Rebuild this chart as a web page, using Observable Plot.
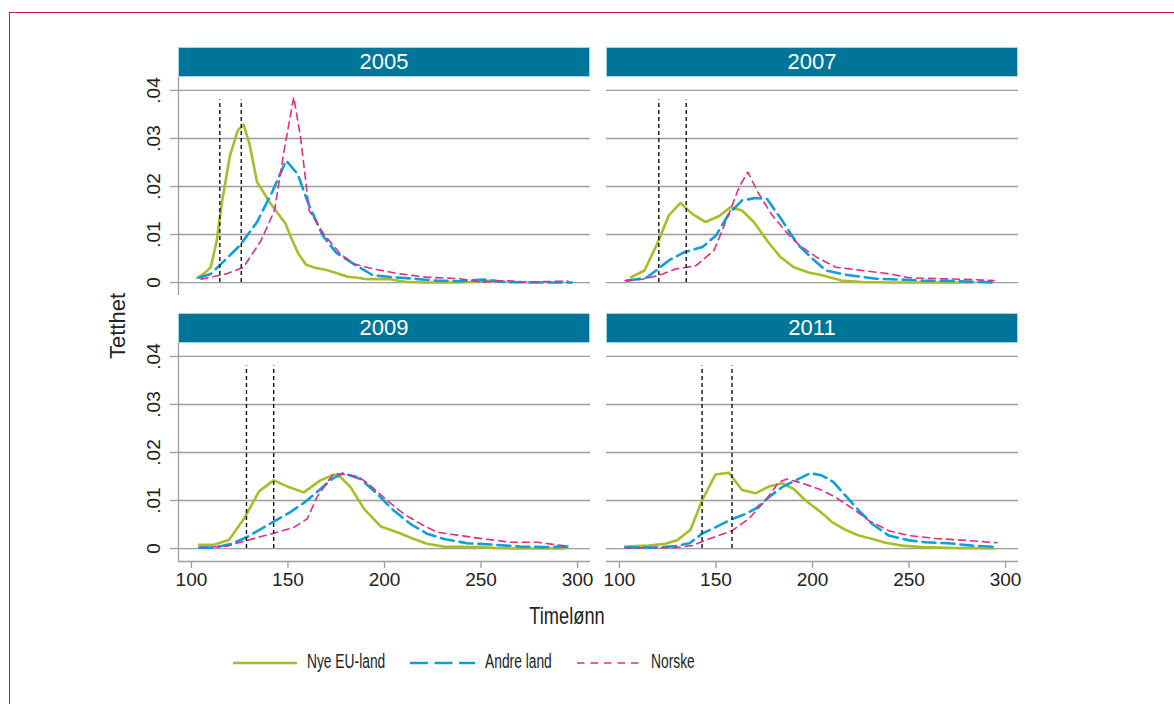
<!DOCTYPE html>
<html>
<head>
<meta charset="utf-8">
<script src="https://cdn.jsdelivr.net/npm/d3@7"></script>
<script src="https://cdn.jsdelivr.net/npm/@observablehq/plot@0.6"></script>
<style>
  html, body { margin: 0; padding: 0; background: #fff; }
  body { width: 1174px; height: 704px; position: relative; overflow: hidden; font-family: "Liberation Sans", Arial, sans-serif; color: #222; }
  .abs { position: absolute; }
  .frameline { left: 9px; top: 12px; width: 1300px; height: 800px; border-left: 1.5px solid #c8186e; border-top: 1.5px solid #c8186e; }
  .strip { background: #00759a; border: 1px solid #a6d3e2; box-sizing: border-box; color: #fff; font-size: 22px; text-align: center; line-height: 28px; }
  .lbl { font-size: 22px; color: #222; white-space: nowrap; }
  .leg { font-size: 20px; color: #222; white-space: nowrap; transform-origin: 0 50%; transform: scaleX(0.69); }
</style>
</head>
<body>
<div class="abs frameline"></div>
<div id="root"></div>
<script>
// ---- data ----
const years = ["2005", "2007", "2009", "2011"];
const groups = ["Nye EU-land", "Andre land", "Norske"];
const xTicks = [100, 150, 200, 250, 300];
const yTicks = [0, 0.01, 0.02, 0.03, 0.04];
const yTickLabels = ["0", ".01", ".02", ".03", ".04"];
const xLabel = "Timelønn";
const yLabel = "Tetthet";

// dashed reference lines (vertical markers) per year, and their top
const markers2005 = [114.7, 125.8];
const markers2007 = [120.4, 134.6];
const markers2009 = [128.5, 142.6];
const markers2011 = [142.8, 158.3];
const markerTop = 0.038;

// Nye EU-land
const eu2005 = [[103,.0010],[107,.0020],[110,.0032],[113,.0085],[116,.0172],[120,.0265],[124,.0317],[127,.0329],[130,.0290],[134,.0209],[141,.0164],[148.7,.0123],[152,.0090],[155.4,.0060],[159.4,.0037],[164,.0031],[170,.0026],[175,.0020],[181,.0012],[186,.0010],[191,.0007],[197,.0007],[203,.0007],[208,.0003],[212,.0001],[222,.0000],[235,.0000],[245,.0001],[252,.0003],[256,.0004],[258,.0003]];
const eu2007 = [[106,.0011],[113,.0025],[119.6,.0081],[125.6,.0140],[131.6,.0166],[137.7,.0143],[144.6,.0126],[151.5,.0138],[157.5,.0157],[163.5,.0150],[169.6,.0126],[176.5,.0087],[183.4,.0053],[190.3,.0032],[198,.0021],[205,.0015],[215,.0004],[226,.0001],[241,.0000],[283,.0000]];
const eu2009 = [[104,.0008],[111.6,.0008],[119.4,.0018],[127.2,.0062],[135,.0119],[142.6,.0142],[150.4,.0128],[158.2,.0117],[166.8,.0142],[173.7,.0154],[177.2,.0149],[182.4,.0128],[189.3,.0083],[198,.0046],[206.6,.0034],[215.2,.0020],[222,.0010],[230.7,.0004],[248,.0003],[265,.0000],[293,.0000]];
const eu2011 = [[103,.0004],[115,.0006],[123.8,.0010],[129.8,.0017],[136.8,.0039],[142.8,.0100],[149.7,.0154],[156.6,.0158],[163.5,.0122],[170.5,.0115],[177.4,.0129],[184.3,.0136],[190.3,.0124],[196.4,.0100],[203.3,.0079],[210.2,.0055],[217.1,.0039],[224,.0027],[231,.0020],[237.8,.0012],[246.4,.0006],[256.8,.0003],[274,.0001],[294,.0000]];

// Andre land
const an2005 = [[104,.0010],[110,.0018],[118,.0049],[125,.0077],[134,.0126],[142,.0190],[149,.0254],[155,.0226],[161,.0160],[168,.0098],[175,.0062],[184,.0039],[194,.0015],[205,.0011],[215,.0008],[227,.0004],[239,.0003],[251,.0006],[263,.0001],[280,.0000],[297,.0000]];
const an2007 = [[104,.0004],[114,.0010],[119,.0025],[125.6,.0046],[133.4,.0063],[143,.0074],[150,.0098],[156.7,.0143],[163.5,.0171],[170.5,.0176],[176.5,.0174],[184.3,.0129],[192,.0081],[199,.0053],[207,.0025],[219,.0015],[233,.0008],[246.6,.0006],[257,.0004],[274,.0003],[295,.0000]];
const an2009 = [[104,.0002],[112,.0002],[121,.0010],[128.8,.0024],[136.6,.0042],[143.5,.0058],[151.3,.0076],[158.2,.0095],[166,.0121],[172.9,.0145],[178.6,.0157],[187.6,.0145],[196.2,.0114],[204.8,.0079],[213.5,.0051],[222,.0031],[230.7,.0020],[242.8,.0011],[256.6,.0008],[270.5,.0004],[282.5,.0003],[295.4,.0004]];
const an2011 = [[103,.0002],[118.7,.0002],[129,.0005],[136.3,.0011],[142.8,.0031],[149.7,.0044],[157.5,.0060],[165.3,.0072],[170.5,.0083],[177.4,.0107],[184.3,.0128],[191.2,.0142],[198.9,.0157],[205,.0152],[211,.0138],[217.1,.0110],[224,.0079],[231,.0051],[239.5,.0027],[250,.0017],[258.5,.0013],[270.6,.0011],[282.7,.0006],[296,.0003]];

// Norske
const no2005 = [[105,.0007],[118,.0018],[127,.0032],[136,.0087],[143,.0150],[148,.0275],[153,.0386],[156.5,.0303],[161,.0150],[168.5,.0101],[177,.0060],[184,.0039],[194.5,.0028],[208,.0018],[222,.0011],[239,.0008],[250,.0001],[262,.0004],[273,.0001],[295,.0003]];
const no2007 = [[103,.0004],[112,.0007],[120.6,.0015],[129,.0028],[139.6,.0035],[149,.0067],[156.7,.0143],[162,.0199],[166.5,.0230],[171.7,.0188],[178.6,.0143],[186.4,.0105],[193.3,.0077],[202,.0053],[212,.0032],[226,.0025],[240,.0018],[250,.0010],[266,.0008],[283,.0006],[294,.0004]];
const no2009 = [[104.7,.0002],[118.5,.0005],[128.8,.0017],[142.6,.0032],[153,.0044],[160,.0062],[165,.0107],[170.3,.0138],[173.7,.0156],[180.7,.0154],[186.7,.0149],[192.7,.0131],[201.4,.0100],[210,.0072],[218.7,.0051],[227.3,.0034],[239.4,.0027],[251.5,.0020],[265.3,.0013],[279,.0013],[294.7,.0005]];
const no2011 = [[103,.0001],[118.7,.0002],[129,.0002],[137.6,.0006],[146.3,.0020],[158.3,.0037],[167,.0062],[175.6,.0100],[182.5,.0138],[186.8,.0145],[194.6,.0136],[203.3,.0124],[211.9,.0107],[222.3,.0079],[229.2,.0058],[239.5,.0037],[250,.0027],[263.7,.0021],[279.3,.0017],[295.6,.0012]];

// ---- build tables ----
const seriesByYear = {
  "2005": [eu2005, an2005, no2005],
  "2007": [eu2007, an2007, no2007],
  "2009": [eu2009, an2009, no2009],
  "2011": [eu2011, an2011, no2011]
};
const markersByYear = { "2005": markers2005, "2007": markers2007, "2009": markers2009, "2011": markers2011 };

const colors = ["#a9bd2a", "#0e9fdb", "#de2e86"];
const dashes = [null, "13,6", "7,5"];
const widths = [2.6, 2.6, 1.6];

const xDomain = [93.3, 306.7];
const yDomain = [-0.0027, 0.0427];

const root = document.getElementById("root");

function panel(year, idx) {
  const col = idx % 2, row = Math.floor(idx / 2);
  const showY = col === 0, showX = row === 1;
  const plotLeft = col === 0 ? 178 : 606;
  const plotTop = row === 0 ? 77 : 343;
  const mL = showY ? 78 : 0;
  const mB = showX ? 45 : 0;
  const innerW = 412, innerH = 218;

  const rows = [];
  seriesByYear[year].forEach((s, g) => s.forEach(([x, y]) => rows.push({ group: groups[g], g, x, y })));

  const marks = [
    Plot.ruleY(yTicks, { stroke: "#9c9c9c", strokeWidth: 1.3 })
  ];
  if (showY) {
    marks.push(Plot.ruleX([xDomain[0]], { stroke: "#9c9c9c", strokeWidth: 1.3 }));
    marks.push(Plot.axisY({ ticks: yTicks, tickSize: 8, tickFormat: () => "", label: null, stroke: "#9c9c9c", strokeWidth: 1.3 }));
    marks.push(Plot.text(yTicks, { y: d => d, text: (d, i) => yTickLabels[i], frameAnchor: "left", dx: -25, rotate: -90, textAnchor: "middle", lineAnchor: "middle", fontSize: 19, fill: "#222" }));
  }
  if (showX) {
    marks.push(Plot.ruleY([yDomain[0]], { stroke: "#9c9c9c", strokeWidth: 1.3 }));
    marks.push(Plot.axisX({ ticks: xTicks, tickSize: 7, tickPadding: 4, label: null, stroke: "#9c9c9c", strokeWidth: 1.3, fill: "#222", fontSize: 19 }));
  }
  groups.forEach((gname, g) => {
    marks.push(Plot.line(rows.filter(d => d.g === g), {
      x: "x", y: "y", stroke: colors[g], strokeWidth: widths[g],
      strokeDasharray: dashes[g] || undefined, strokeLinejoin: "round", curve: "linear"
    }));
  });
  marks.push(Plot.ruleX(markersByYear[year], { y1: 0, y2: markerTop, stroke: "#111", strokeWidth: 1.4, strokeDasharray: "4,3" }));

  const chart = Plot.plot({
    width: mL + innerW,
    height: innerH + mB,
    marginLeft: mL, marginRight: 0, marginTop: 0, marginBottom: mB,
    x: { domain: xDomain, axis: null },
    y: { domain: yDomain, axis: null },
    style: { fontFamily: "'Liberation Sans', Arial, sans-serif", fontSize: "19px", background: "transparent", overflow: "visible", color: "#222" },
    marks
  });
  chart.style.position = "absolute";
  chart.style.left = (plotLeft - mL) + "px";
  chart.style.top = plotTop + "px";
  root.appendChild(chart);

  const strip = document.createElement("div");
  strip.className = "abs strip";
  strip.style.left = plotLeft + "px";
  strip.style.top = (plotTop - 30) + "px";
  strip.style.width = innerW + "px";
  strip.style.height = "30px";
  strip.textContent = year;
  root.appendChild(strip);
}
years.forEach(panel);

// axis titles
const xt = document.createElement("div");
xt.className = "abs lbl";
xt.textContent = xLabel;
xt.style.fontSize = "24px";
xt.style.left = "567px"; xt.style.top = "602px"; xt.style.transform = "translateX(-50%) scaleX(0.76)";
root.appendChild(xt);

const yt = document.createElement("div");
yt.className = "abs lbl";
yt.textContent = yLabel;
yt.style.left = "118px"; yt.style.top = "326px"; yt.style.transform = "translate(-50%,-50%) rotate(-90deg)";
root.appendChild(yt);

// legend
const legendItems = [
  { x1: 233, x2: 297, tx: 307 },
  { x1: 410, x2: 475, tx: 485 },
  { x1: 577, x2: 640, tx: 651 }
];
const legSvg = d3.create("svg").attr("width", 1174).attr("height", 20)
  .style("position", "absolute").style("left", "0px").style("top", "653px");
legendItems.forEach((it, g) => {
  legSvg.append("line").attr("x1", it.x1).attr("x2", it.x2).attr("y1", 10).attr("y2", 10)
    .attr("stroke", colors[g]).attr("stroke-width", g === 2 ? 1.6 : 2.6)
    .attr("stroke-dasharray", g === 1 ? "18,6.5" : g === 2 ? "7.5,6" : null);
});
root.appendChild(legSvg.node());
legendItems.forEach((it, g) => {
  const t = document.createElement("div");
  t.className = "abs leg";
  t.textContent = groups[g];
  t.style.left = it.tx + "px"; t.style.top = "650px";
  root.appendChild(t);
});
</script>
</body>
</html>
